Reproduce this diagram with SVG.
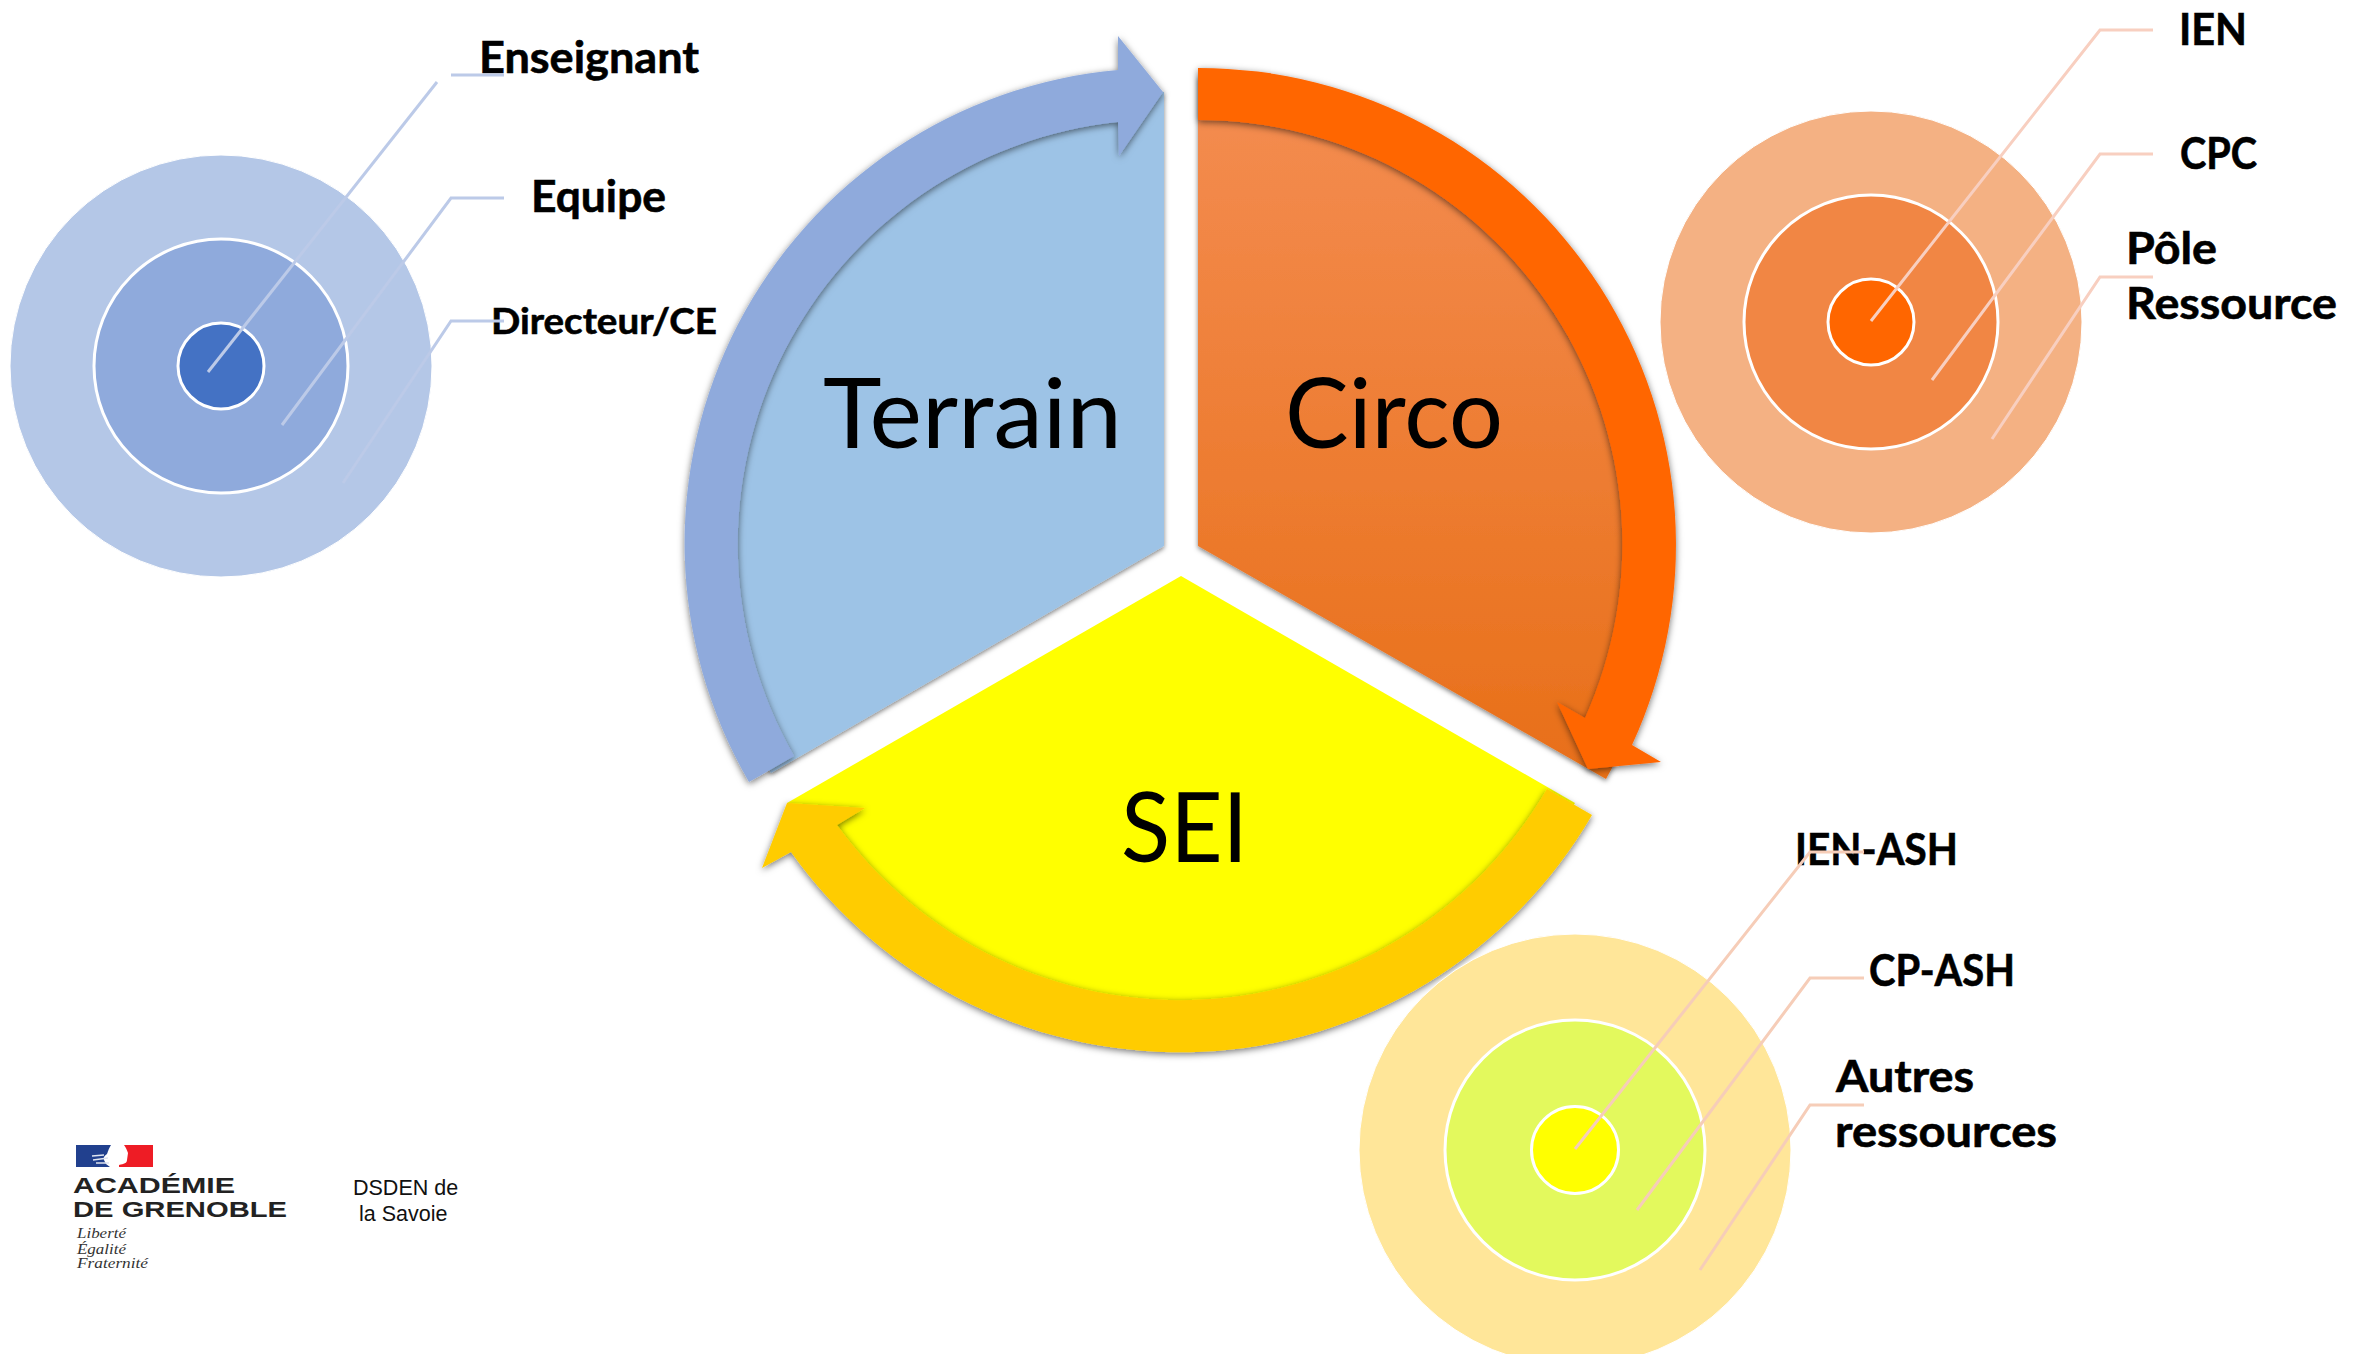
<svg xmlns="http://www.w3.org/2000/svg" width="2357" height="1354" viewBox="0 0 2357 1354">
<style>
.lbl{font-family:"Lato","Open Sans",sans-serif;font-weight:700;font-size:44px;fill:#000;stroke:#000;stroke-width:.6}
.big{font-family:"Lato","Open Sans",sans-serif;font-weight:400;font-size:97px;fill:#000}
.ring{filter:url(#rs)}
.sec{filter:url(#ss)}
.mid{stroke:#fff;stroke-width:3}
.out{stroke:#fff;stroke-width:1}
.lead{fill:none;stroke-width:3;stroke-linejoin:miter}
.lb{stroke:#BCCAE8}.lo{stroke:#F8CFC0}.ly{stroke:#F6CDB8}
.ac{font-family:"Liberation Sans",Arial,sans-serif;font-weight:700;font-size:22px;fill:#222}
.mo{font-family:"Liberation Serif","Times New Roman",serif;font-style:italic;font-size:15px;fill:#333}
.ds{font-family:"Liberation Sans",Arial,sans-serif;font-size:21.500px;fill:#111}
</style>
<defs>
<filter id="rs" x="-10%" y="-10%" width="120%" height="120%"><feDropShadow dx="0" dy="2" stdDeviation="3.5" flood-color="#000" flood-opacity=".55"/></filter>
<filter id="ss" x="-10%" y="-10%" width="120%" height="120%"><feDropShadow dx="0" dy="2" stdDeviation="2.5" flood-color="#000" flood-opacity=".5"/></filter>
<linearGradient id="og" gradientUnits="userSpaceOnUse" x1="0" y1="76" x2="0" y2="779"><stop offset="0" stop-color="#F48D52"/><stop offset="1" stop-color="#E86F18"/></linearGradient>
</defs>
<rect width="2357" height="1354" fill="#fff"/>
<g id="wheel-terrain">
<path class="sec" d="M1164,546 L1164,92 A454,454 0 0 0 771,773 Z" fill="#9DC3E6"/>
<path class="ring" d="M749,782 A475,475 0 0 1 1118,70 L1118,36 L1163,92 L1119,156 L1118,122 A425,425 0 0 0 794,756 Z" fill="#8FAADC"/>
<text class="big" x="823" y="448" textLength="299" lengthAdjust="spacingAndGlyphs">Terrain</text>
</g>
<g id="wheel-circo">
<path class="sec" d="M1198,546 L1198,76 A470,470 0 0 1 1606,779 Z" fill="url(#og)"/>
<path class="ring" d="M1198,68 A477,477 0 0 1 1632,745 L1661,762 L1588,769 L1557,702 L1585,718 A424,424 0 0 0 1198,120 Z" fill="#FF6600"/>
<text class="big" x="1285" y="448" textLength="218" lengthAdjust="spacingAndGlyphs">Circo</text>
</g>
<g id="wheel-sei">
<path d="M1181,576 L1575,803 A455,455 0 0 1 787,803 Z" fill="#FFFF00"/>
<path class="ring" d="M1592,815 A477,477 0 0 1 791,852 L762,868 L787,803 L865,808 L837,825 A424,424 0 0 0 1547,789 Z" fill="#FFCC00"/>
<text class="big" x="1121" y="862" textLength="127" lengthAdjust="spacingAndGlyphs">SEI</text>
</g>
<g id="target-terrain">
<circle class="out" cx="221" cy="366" r="211" fill="#B4C7E7"/>
<circle class="mid" cx="221" cy="366" r="127" fill="#8FAADC"/>
<circle class="mid" cx="221" cy="366" r="43" fill="#4472C4"/>
<text class="lbl" x="479" y="73" textLength="220" lengthAdjust="spacingAndGlyphs">Enseignant</text>
<text class="lbl" x="531" y="212" textLength="135" lengthAdjust="spacingAndGlyphs">Equipe</text>
<text class="lbl" x="491" y="334" style="font-size:37px" textLength="226" lengthAdjust="spacingAndGlyphs">Directeur/CE</text>
</g>
<g id="target-circo">
<circle class="out" cx="1871" cy="322" r="211" fill="#F4B183"/>
<circle class="mid" cx="1871" cy="322" r="127" fill="#F18644"/>
<circle class="mid" cx="1871" cy="322" r="43" fill="#FF6600"/>
<text class="lbl" x="2179" y="45" textLength="68" lengthAdjust="spacingAndGlyphs">IEN</text>
<text class="lbl" x="2180" y="169" textLength="77" lengthAdjust="spacingAndGlyphs">CPC</text>
<text class="lbl" x="2126" y="264" textLength="91" lengthAdjust="spacingAndGlyphs">Pôle</text>
<text class="lbl" x="2126" y="319" textLength="211" lengthAdjust="spacingAndGlyphs">Ressource</text>
</g>
<g id="target-sei">
<circle class="out" cx="1575" cy="1150" r="216" fill="#FFE699"/>
<circle class="mid" cx="1575" cy="1150" r="130" fill="#E3F95D"/>
<circle class="mid" cx="1575" cy="1150" r="43.500" fill="#FFFF00"/>
<text class="lbl" x="1795" y="865" textLength="163" lengthAdjust="spacingAndGlyphs">IEN-ASH</text>
<text class="lbl" x="1869" y="986" textLength="146" lengthAdjust="spacingAndGlyphs">CP-ASH</text>
<text class="lbl" x="1836" y="1092" textLength="138" lengthAdjust="spacingAndGlyphs">Autres</text>
<text class="lbl" x="1835" y="1147" textLength="222" lengthAdjust="spacingAndGlyphs">ressources</text>
</g>
<g id="connectors">
<path class="lead lb" d="M208,372 L437,82"/>
<path class="lead lb" d="M451,75 L504,75"/>
<path class="lead lb" d="M282,425 L451,198 L504,198"/>
<path class="lead lb" d="M343,483 L451,321 L504,321"/>
<path class="lead lo" d="M1871,321 L2100,30 L2153,30"/>
<path class="lead lo" d="M1932,380 L2100,154 L2153,154"/>
<path class="lead lo" d="M1992,439 L2100,277 L2153,277"/>
<path class="lead ly" d="M1575,1149 L1810,852 L1864,852"/>
<path class="lead ly" d="M1637,1210 L1810,978 L1864,978"/>
<path class="lead ly" d="M1700,1270 L1810,1105 L1864,1105"/>
</g>
<g id="logo">
<path d="M76,1145 L111,1145 C108,1150 108,1152 107,1154 C104,1156 103,1158 104,1160 L106,1164 L110,1167 L76,1167 Z" fill="#21408E"/>
<path d="M124,1145 L153,1145 L153,1167 L119,1167 L119,1165 C124,1164 127,1163 127,1160 L128,1153 C127,1150 126,1148 124,1145 Z" fill="#EE1C25"/>
<path d="M92,1156 L104,1155 M93,1160 L108,1158 M96,1163 L109,1163" fill="none" stroke="#dfe4f0" stroke-width="1.300"/>
<text class="ac" x="73" y="1193" textLength="162" lengthAdjust="spacingAndGlyphs">ACADÉMIE</text>
<text class="ac" x="73" y="1217" textLength="214" lengthAdjust="spacingAndGlyphs">DE GRENOBLE</text>
<text class="mo" x="77" y="1238" textLength="49" lengthAdjust="spacingAndGlyphs">Liberté</text>
<text class="mo" x="77" y="1254" textLength="49" lengthAdjust="spacingAndGlyphs">Égalité</text>
<text class="mo" x="77" y="1268" textLength="71" lengthAdjust="spacingAndGlyphs">Fraternité</text>
</g>
<g id="dsden">
<text class="ds" x="353" y="1195">DSDEN de</text>
<text class="ds" x="359" y="1221">la Savoie</text>
</g>
</svg>
